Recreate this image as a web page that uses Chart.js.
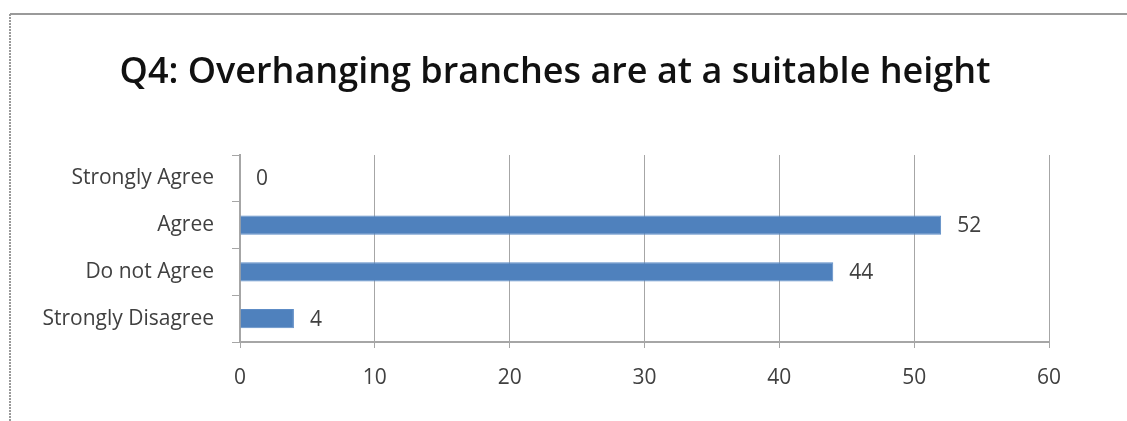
<!DOCTYPE html>
<html>
<head>
<meta charset="utf-8">
<script src="https://cdn.jsdelivr.net/npm/chart.js@4"></script>
<style>
    html, body { margin: 0; padding: 0; background: #fff; }
    #wrap { position: relative; width: 1127px; height: 421px; }
</style>
</head>
<body>
<div id="wrap"><canvas id="q4-chart" width="1127" height="421"></canvas></div>
<script>
const categories = ["Strongly Agree", "Agree", "Do not Agree", "Strongly Disagree"]
const responses = [0, 52, 44, 4]
const xTicks = [0, 10, 20, 30, 40, 50, 60]
const chartTitle = "Q4: Overhanging branches are at a suitable height"

const FONT = "'Open Sans', Lato, sans-serif"
const TEXT = "#404040"
const GRID = "#a6a6a6"

// white page + the frame line along top and left edge
function framePlugin() {
    return {
        id: "frame",
        beforeDraw: (chart) => {
            const { ctx, canvas } = chart
            ctx.save()
            ctx.fillStyle = "#fff"
            ctx.fillRect(0, 0, canvas.width, canvas.height)
            ctx.strokeStyle = "#9a9a9a"
            ctx.lineWidth = 2
            ctx.beginPath()
            ctx.moveTo(10, 14)
            ctx.lineTo(canvas.width, 14)
            ctx.stroke()
            ctx.setLineDash([2, 1])
            ctx.beginPath()
            ctx.moveTo(10, 14)
            ctx.lineTo(10, canvas.height)
            ctx.stroke()
            ctx.restore()
        }
    }
}

// heading is centred on the frame, not on the plot, so it is drawn here
function headingPlugin() {
    return {
        id: "heading",
        afterDraw: (chart) => {
            const { ctx } = chart
            ctx.save()
            ctx.font = `600 36px ${FONT}`
            ctx.fillStyle = "#111"
            ctx.textAlign = "center"
            ctx.textBaseline = "middle"
            ctx.fillText(chartTitle, 555, 73)
            ctx.restore()
        }
    }
}

// value printed just past the end of each bar
function valueLabelPlugin() {
    return {
        id: "valueLabels",
        afterDatasetsDraw: (chart) => {
            const { ctx } = chart
            const meta = chart.getDatasetMeta(0)
            const xScale = chart.scales.x
            ctx.save()
            ctx.font = `21px ${FONT}`
            ctx.fillStyle = TEXT
            ctx.textAlign = "left"
            ctx.textBaseline = "middle"
            meta.data.forEach((bar, i) => {
                const v = chart.data.datasets[0].data[i]
                ctx.fillText(String(v), xScale.getPixelForValue(v) + 16, bar.y + 1)
            })
            ctx.restore()
        }
    }
}

new Chart(document.getElementById("q4-chart").getContext("2d"), {
    type: "bar",
    data: {
        labels: categories,
        datasets: [{
            data: responses,
            backgroundColor: "#4f81bd",
            borderColor: "#5d8cc6",
            borderWidth: 1,
            categoryPercentage: 1,
            barPercentage: 0.41
        }]
    },
    options: {
        indexAxis: "y",
        responsive: false,
        animation: false,
        layout: { padding: { left: 0, right: 78, top: 155, bottom: 0 } },
        plugins: {
            legend: { display: false },
            tooltip: { enabled: false },
            title: { display: false }
        },
        scales: {
            x: {
                min: 0,
                max: 60,
                afterBuildTicks: (scale) => { scale.ticks = xTicks.map(v => ({ value: v })) },
                afterFit: (scale) => { scale.height = 79 },
                grid: { color: GRID, lineWidth: 1, tickLength: 6, drawTicks: true },
                border: { color: GRID, width: 2 },
                ticks: {
                    color: TEXT,
                    font: { family: FONT, size: 21 },
                    padding: 17,
                    maxRotation: 0
                }
            },
            y: {
                afterFit: (scale) => { scale.width = 240 },
                grid: { drawOnChartArea: false, color: GRID, tickLength: 8, offset: true },
                border: { color: GRID, width: 2 },
                ticks: {
                    color: TEXT,
                    font: { family: FONT, size: 21 },
                    padding: 18
                }
            }
        }
    },
    plugins: [framePlugin(), headingPlugin(), valueLabelPlugin()]
})
</script>
</body>
</html>
